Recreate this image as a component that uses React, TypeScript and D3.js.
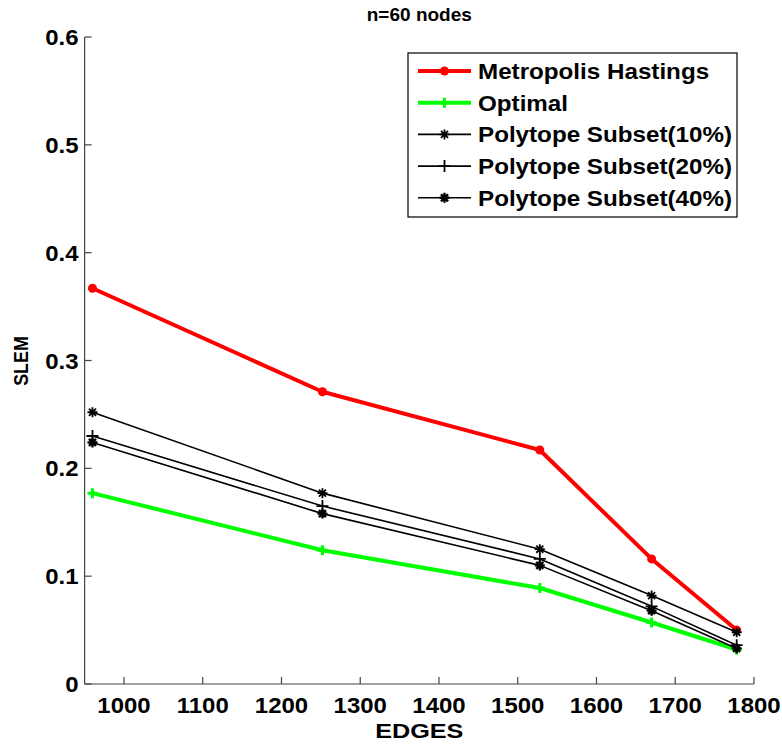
import React from "react";
import * as d3 from "d3";

const edges = [960, 1252, 1528, 1670, 1778];
const metropolis = [0.367, 0.271, 0.217, 0.116, 0.05];
const optimal = [0.177, 0.124, 0.089, 0.057, 0.032];
const poly10 = [0.252, 0.177, 0.125, 0.082, 0.048];
const poly20 = [0.23, 0.165, 0.116, 0.072, 0.036];
const poly40 = [0.224, 0.158, 0.11, 0.068, 0.033];
const xTicks = [1000, 1100, 1200, 1300, 1400, 1500, 1600, 1700, 1800];
const yTicks = [0, 0.1, 0.2, 0.3, 0.4, 0.5, 0.6];

type Series = { name: string; values: number[]; color: string; width: number; marker: string };
const series: Series[] = [
  { name: "Metropolis Hastings", values: metropolis, color: "#ff0000", width: 4, marker: "circle" },
  { name: "Optimal", values: optimal, color: "#00ff00", width: 4, marker: "plusBold" },
  { name: "Polytope Subset(10%)", values: poly10, color: "#000000", width: 1.6, marker: "asterisk" },
  { name: "Polytope Subset(20%)", values: poly20, color: "#000000", width: 1.6, marker: "plus" },
  { name: "Polytope Subset(40%)", values: poly40, color: "#000000", width: 1.6, marker: "asteriskBold" },
];

const FONT = "'Liberation Sans', Arial, Helvetica, sans-serif";

function T({ x, y, sx = 1, rot = 0, size, anchor = "start", children }: any) {
  return (
    <g transform={`translate(${x},${y}) rotate(${rot}) scale(${sx},1)`}>
      <text x={0} y={0} textAnchor={anchor} fontSize={size} fill="#000">
        {children}
      </text>
    </g>
  );
}

function Marker({ type, x, y, color }: { type: string; x: number; y: number; color: string }) {
  if (type === "circle") return <circle cx={x} cy={y} r={4.5} fill={color} />;
  if (type === "plusBold")
    return (
      <path d={`M${x - 5},${y}H${x + 5}M${x},${y - 5}V${y + 5}`} stroke={color} strokeWidth={3} />
    );
  if (type === "plus")
    return (
      <path d={`M${x - 6},${y}H${x + 6}M${x},${y - 6}V${y + 6}`} stroke={color} strokeWidth={1.8} />
    );
  const r = 5;
  const d2 = r * 0.707;
  const sw = type === "asteriskBold" ? 2.4 : 1.8;
  return (
    <path
      d={`M${x - r},${y}H${x + r}M${x},${y - r}V${y + r}M${x - d2},${y - d2}L${x + d2},${y + d2}M${x - d2},${y + d2}L${x + d2},${y - d2}`}
      stroke={color}
      strokeWidth={sw}
    />
  );
}

export default function App() {
  const W = 782, H = 744;
  const x = d3.scaleLinear().domain([950, 1800]).range([84.6, 754]);
  const y = d3.scaleLinear().domain([0, 0.6]).range([684, 37]);
  const line = d3
    .line<number>()
    .x((_, i) => x(edges[i]))
    .y((d) => y(d));
  const axisColor = "#444";
  const tickLen = 7;
  const legX = 408, legY = 53, legW = 329, legH = 164, rowH = 31.7;
  const cx = (x(950) + x(1800)) / 2;
  return (
    <svg width={W} height={H} style={{ position: "absolute", left: 0, top: 0, background: "#fff" }} fontFamily={FONT} fontWeight="bold">
      {/* axes */}
      <line x1={x(950)} x2={x(1800)} y1={y(0)} y2={y(0)} stroke={axisColor} strokeWidth={1.2} />
      <line x1={x(950)} x2={x(950)} y1={y(0)} y2={y(0.6)} stroke={axisColor} strokeWidth={1.2} />
      {xTicks.map((t) => (
        <g key={t}>
          <line x1={x(t)} x2={x(t)} y1={y(0)} y2={y(0) - tickLen} stroke={axisColor} strokeWidth={1.2} />
          <T x={x(t)} y={y(0) + 29} size={22} sx={1.09} anchor="middle">
            {t}
          </T>
        </g>
      ))}
      {yTicks.map((t) => (
        <g key={t}>
          <line x1={x(950)} x2={x(950) + tickLen} y1={y(t)} y2={y(t)} stroke={axisColor} strokeWidth={1.2} />
          <T x={x(950) - 6} y={y(t) + 8} size={22} sx={1.09} anchor="end">
            {t === 0 ? "0" : d3.format(".1f")(t)}
          </T>
        </g>
      ))}
      <T x={cx} y={21} size={19} anchor="middle">
        n=60 nodes
      </T>
      <T x={cx} y={738} size={21} sx={1.2} anchor="middle">
        EDGES
      </T>
      <T x={28} y={361} size={21} sx={0.85} rot={-90} anchor="middle">
        SLEM
      </T>
      {/* series */}
      {series.map((s) => (
        <g key={s.name}>
          <path d={line(s.values) || ""} fill="none" stroke={s.color} strokeWidth={s.width} strokeLinejoin="round" />
          {s.values.map((v, i) => (
            <Marker key={i} type={s.marker} x={x(edges[i])} y={y(v)} color={s.color} />
          ))}
        </g>
      ))}
      {/* legend */}
      <rect x={legX} y={legY} width={legW} height={legH} fill="#fff" stroke="#000" strokeWidth={1.2} />
      {series.map((s, i) => {
        const ly = legY + 18 + i * rowH;
        return (
          <g key={s.name}>
            <line x1={legX + 10} x2={legX + 63} y1={ly} y2={ly} stroke={s.color} strokeWidth={s.width} />
            <Marker type={s.marker} x={legX + 36.5} y={ly} color={s.color} />
            <T x={legX + 70} y={ly + 8} size={22} sx={1.1}>
              {s.name}
            </T>
          </g>
        );
      })}
    </svg>
  );
}
